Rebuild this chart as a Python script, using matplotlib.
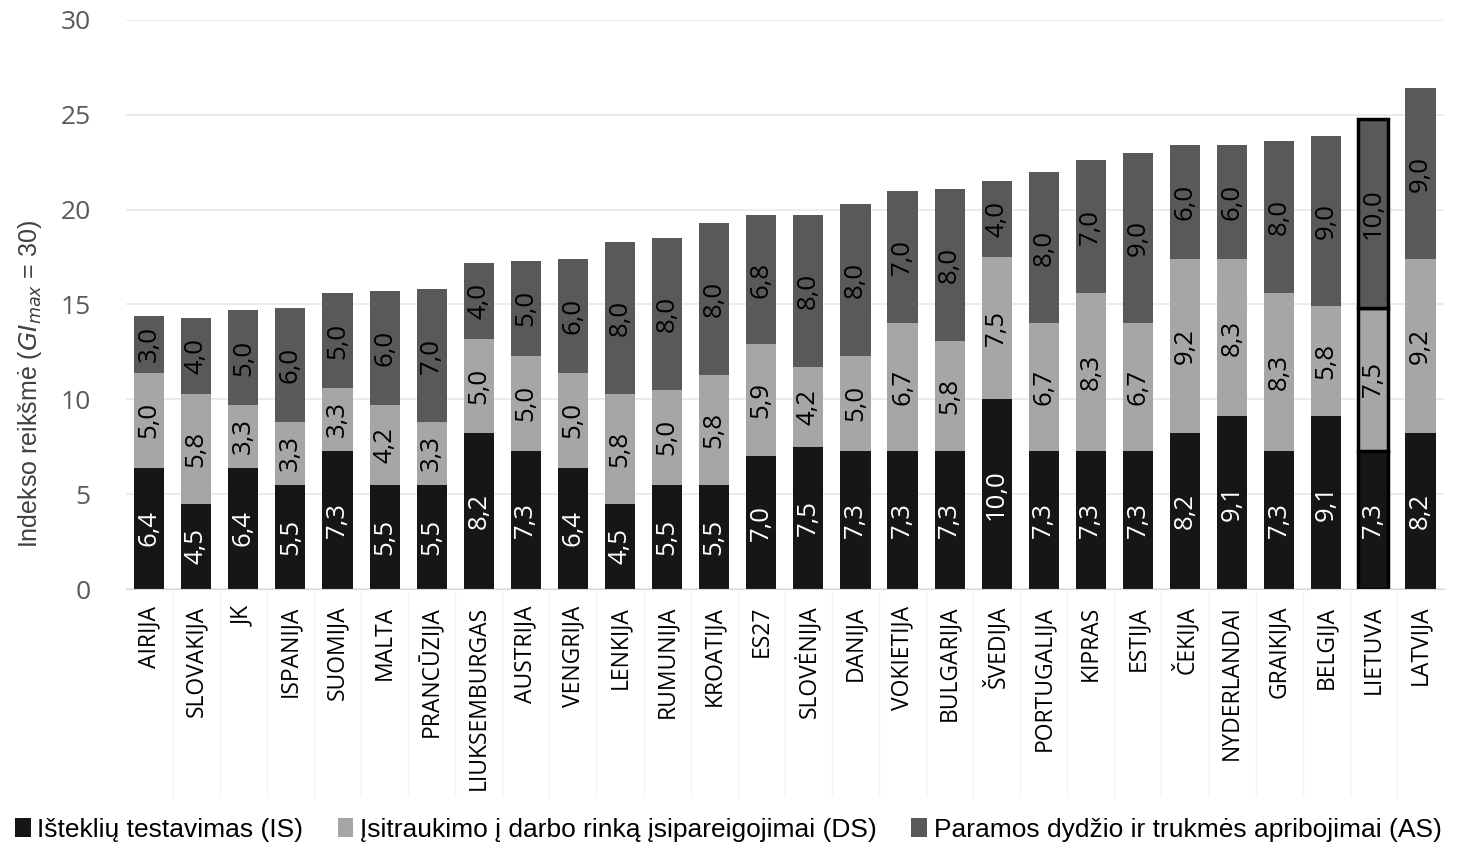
import numpy as np
import matplotlib
matplotlib.use("Agg")
from matplotlib import pyplot as plt
from matplotlib.patches import Patch

# šalys ir indekso dedamosios
salys = ["AIRIJA", "SLOVAKIJA", "JK", "ISPANIJA", "SUOMIJA", "MALTA", "PRANCŪZIJA",
         "LIUKSEMBURGAS", "AUSTRIJA", "VENGRIJA", "LENKIJA", "RUMUNIJA", "KROATIJA",
         "ES27", "SLOVĖNIJA", "DANIJA", "VOKIETIJA", "BULGARIJA", "ŠVEDIJA",
         "PORTUGALIJA", "KIPRAS", "ESTIJA", "ČEKIJA", "NYDERLANDAI", "GRAIKIJA",
         "BELGIJA", "LIETUVA", "LATVIJA"]
IS = [6.4, 4.5, 6.4, 5.5, 7.3, 5.5, 5.5, 8.2, 7.3, 6.4, 4.5, 5.5, 5.5, 7.0,
      7.5, 7.3, 7.3, 7.3, 10.0, 7.3, 7.3, 7.3, 8.2, 9.1, 7.3, 9.1, 7.3, 8.2]
DS = [5.0, 5.8, 3.3, 3.3, 3.3, 4.2, 3.3, 5.0, 5.0, 5.0, 5.8, 5.0, 5.8, 5.9,
      4.2, 5.0, 6.7, 5.8, 7.5, 6.7, 8.3, 6.7, 9.2, 8.3, 8.3, 5.8, 7.5, 9.2]
AS = [3.0, 4.0, 5.0, 6.0, 5.0, 6.0, 7.0, 4.0, 5.0, 6.0, 8.0, 8.0, 8.0, 6.8,
      8.0, 8.0, 7.0, 8.0, 4.0, 8.0, 7.0, 9.0, 6.0, 6.0, 8.0, 9.0, 10.0, 9.0]
serijos = ["Išteklių testavimas (IS)",
           "Įsitraukimo į darbo rinką įsipareigojimai (DS)",
           "Paramos dydžio ir trukmės apribojimai (AS)"]
spalvos = ["#161616", "#a6a6a6", "#595959"]
teksto_spalvos = ["white", "black", "black"]
pazymeta = "LIETUVA"

fig = plt.figure(figsize=(14.78, 8.47), dpi=100)
ax = fig.add_axes([0.085, 0.3046, 0.892, 0.6718])

x = np.arange(len(salys))
plotis = 0.64
apacia = np.zeros(len(salys))
for reiksmes, spalva, tspalva in zip([IS, DS, AS], spalvos, teksto_spalvos):
    reiksmes = np.array(reiksmes)
    bars = ax.bar(x, reiksmes, plotis, bottom=apacia, color=spalva, zorder=2)
    for i, b in enumerate(bars):
        if salys[i] == pazymeta:
            b.set_edgecolor("black")
            b.set_linewidth(2.5)
    for xi, b0, v in zip(x, apacia, reiksmes):
        ax.text(xi, b0 + v / 2, f"{v:.1f}".replace(".", ","), rotation=90,
                ha="center", va="center", color=tspalva, fontsize=18.5,
                family="Open Sans", zorder=3)
    apacia = apacia + reiksmes

ax.set_ylim(0, 30)
ax.set_xlim(-0.5, len(salys) - 0.5)
ax.set_yticks(range(0, 31, 5))
ax.yaxis.grid(True, color="#e8e8e8", lw=1.2, zorder=0)
for s in ax.spines.values():
    s.set_visible(False)
ax.spines["bottom"].set_visible(True)
ax.spines["bottom"].set_color("#d9d9d9")

ax.set_xticks(x)
ax.set_xticklabels(salys, rotation=90, fontsize=16.5, family="Open Sans", color="black")
ax.set_xticks(x[:-1] + 0.5, minor=True)
ax.tick_params(axis="x", which="major", length=0, pad=12)
ax.tick_params(axis="x", which="minor", length=150, color="#f3f3f3", width=1)
ax.tick_params(axis="y", length=0, labelsize=19, labelcolor="#595959", pad=25)
for t in ax.get_yticklabels():
    t.set_family("Open Sans")

ax.set_ylabel(r"Indekso reikšmė ($GI_{max}$ = 30)", fontsize=18,
              family="Liberation Sans", color="#404040", labelpad=10)
ax.yaxis.set_label_coords(-0.062, 0.36)

rankenos = [Patch(facecolor=c) for c in spalvos]
fig.legend(rankenos, serijos, loc="lower left", bbox_to_anchor=(-0.006, -0.022),
           ncol=3, frameon=False, handlelength=0.6, handleheight=0.7,
           handletextpad=0.25, columnspacing=1.3,
           prop={"family": "Liberation Sans", "size": 19})

fig.savefig("out.png", dpi=100)
